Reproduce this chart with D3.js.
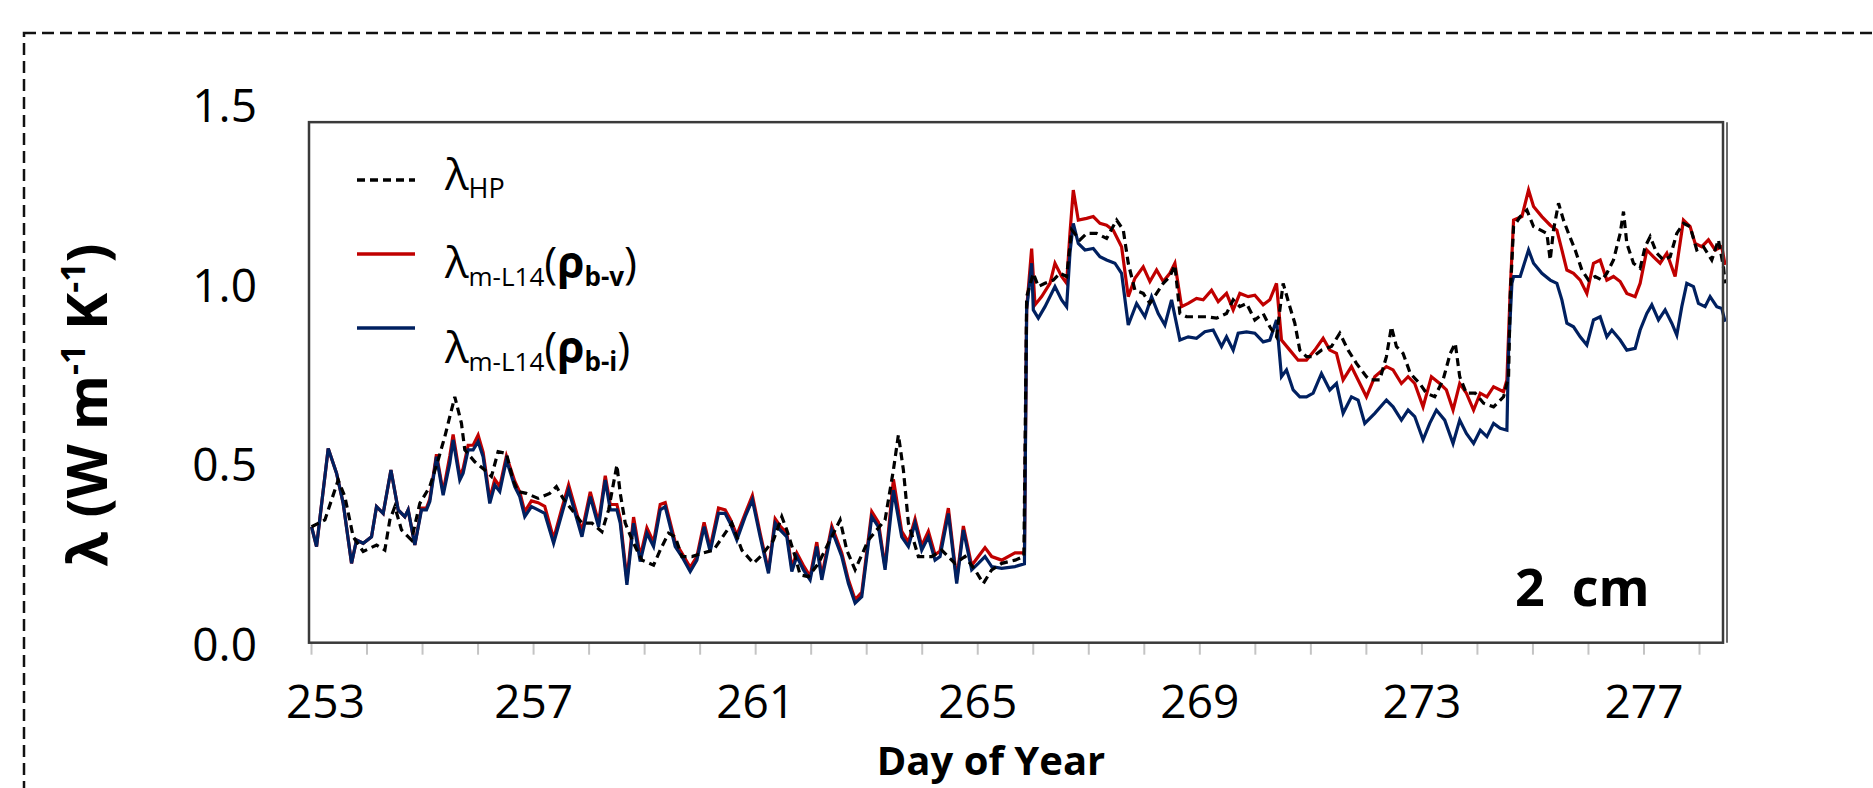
<!DOCTYPE html>
<html>
<head>
<meta charset="utf-8">
<script src="https://cdn.jsdelivr.net/npm/d3@7"></script>
<style>
  body { margin: 0; background: #fff; }
  text { font-family: "Open Sans", sans-serif; fill: #000; }
</style>
</head>
<body>
<svg id="chart" width="1873" height="788"></svg>
<script>
//  Data  //
var dayTicks = d3.range(253, 279);
var dayLabels = [253, 257, 261, 265, 269, 273, 277];
var lambdaTicks = [0, 0.5, 1.0, 1.5];

// lambda_HP  (dashed black)
var hpSeries = [[253.01,0.323],[253.25,0.342],[253.49,0.453],[253.61,0.407],[253.76,0.295],[253.94,0.254],[254.18,0.272],[254.33,0.258],[254.42,0.342],[254.51,0.379],[254.63,0.314],[254.81,0.286],[254.96,0.388],[255.14,0.435],[255.29,0.509],[255.41,0.574],[255.59,0.685],[255.71,0.611],[255.77,0.537],[255.95,0.504],[256.13,0.481],[256.25,0.463],[256.37,0.532],[256.52,0.527],[256.64,0.453],[256.73,0.421],[256.88,0.416],[257.09,0.402],[257.30,0.416],[257.42,0.435],[257.54,0.402],[257.70,0.370],[257.88,0.333],[258.06,0.333],[258.24,0.309],[258.36,0.370],[258.51,0.495],[258.57,0.416],[258.66,0.333],[258.81,0.277],[258.96,0.230],[259.17,0.216],[259.29,0.258],[259.44,0.305],[259.56,0.295],[259.68,0.240],[259.86,0.240],[260.04,0.249],[260.25,0.258],[260.46,0.305],[260.58,0.333],[260.76,0.258],[260.97,0.221],[261.12,0.244],[261.33,0.286],[261.48,0.351],[261.57,0.314],[261.72,0.240],[261.81,0.189],[261.96,0.184],[262.14,0.221],[262.32,0.277],[262.53,0.342],[262.65,0.258],[262.80,0.203],[263.04,0.286],[263.34,0.342],[263.49,0.481],[263.58,0.579],[263.67,0.481],[263.76,0.333],[263.94,0.240],[264.18,0.240],[264.36,0.258],[264.60,0.221],[264.78,0.240],[264.96,0.203],[265.11,0.165],[265.26,0.203],[265.44,0.221],[265.68,0.230],[265.84,0.240],[265.89,0.964],[266.01,1.029],[266.10,0.992],[266.22,1.001],[266.37,1.010],[266.49,1.029],[266.61,1.020],[266.70,1.150],[266.85,1.122],[266.97,1.140],[267.15,1.140],[267.33,1.126],[267.51,1.177],[267.63,1.150],[267.72,1.057],[267.84,0.982],[267.99,0.973],[268.11,0.945],[268.23,0.973],[268.35,1.001],[268.47,1.020],[268.56,1.052],[268.65,0.917],[268.77,0.908],[268.95,0.908],[269.13,0.908],[269.31,0.904],[269.49,0.917],[269.61,0.955],[269.73,0.936],[269.85,0.945],[270.00,0.899],[270.15,0.917],[270.27,0.880],[270.39,0.852],[270.51,1.001],[270.63,0.936],[270.72,0.890],[270.81,0.815],[270.93,0.797],[271.05,0.797],[271.20,0.815],[271.38,0.825],[271.53,0.862],[271.68,0.815],[271.83,0.778],[272.01,0.741],[272.07,0.732],[272.25,0.732],[272.37,0.797],[272.46,0.880],[272.55,0.825],[272.67,0.806],[272.80,0.750],[272.97,0.722],[273.09,0.695],[273.24,0.685],[273.39,0.732],[273.52,0.806],[273.61,0.834],[273.69,0.741],[273.81,0.695],[273.97,0.695],[274.12,0.667],[274.30,0.657],[274.48,0.685],[274.57,0.741],[274.60,0.964],[274.66,1.159],[274.78,1.187],[274.90,1.205],[275.02,1.159],[275.14,1.150],[275.26,1.140],[275.32,1.066],[275.38,1.150],[275.47,1.224],[275.56,1.177],[275.65,1.140],[275.77,1.094],[275.89,1.038],[276.01,1.010],[276.13,1.020],[276.25,1.010],[276.34,1.029],[276.46,1.066],[276.58,1.140],[276.64,1.201],[276.70,1.112],[276.82,1.057],[276.94,1.043],[277.03,1.103],[277.12,1.131],[277.24,1.085],[277.36,1.066],[277.48,1.075],[277.60,1.140],[277.72,1.168],[277.84,1.159],[277.96,1.094],[278.08,1.103],[278.23,1.066],[278.35,1.122],[278.44,1.047],[278.47,1.001]];

// lambda_m-L14(rho_b-v)  (red)
var bvSeries = [[253.01,0.323],[253.10,0.268],[253.31,0.541],[253.46,0.472],[253.58,0.388],[253.73,0.221],[253.82,0.286],[253.94,0.277],[254.09,0.295],[254.18,0.379],[254.30,0.360],[254.44,0.481],[254.57,0.370],[254.69,0.351],[254.75,0.370],[254.87,0.272],[254.99,0.375],[255.08,0.375],[255.14,0.400],[255.26,0.525],[255.38,0.420],[255.50,0.520],[255.56,0.580],[255.68,0.465],[255.74,0.485],[255.83,0.550],[255.92,0.550],[256.01,0.578],[256.10,0.530],[256.22,0.400],[256.31,0.455],[256.40,0.435],[256.52,0.520],[256.67,0.450],[256.76,0.420],[256.85,0.365],[256.97,0.395],[257.09,0.390],[257.21,0.380],[257.37,0.290],[257.52,0.375],[257.64,0.440],[257.76,0.375],[257.88,0.310],[258.03,0.420],[258.18,0.335],[258.30,0.465],[258.39,0.385],[258.51,0.385],[258.57,0.345],[258.69,0.175],[258.81,0.350],[258.93,0.240],[259.05,0.320],[259.17,0.280],[259.29,0.385],[259.38,0.390],[259.56,0.280],[259.68,0.250],[259.83,0.210],[259.95,0.240],[260.08,0.335],[260.19,0.265],[260.34,0.375],[260.46,0.370],[260.55,0.345],[260.67,0.300],[260.82,0.360],[260.95,0.410],[261.09,0.305],[261.24,0.200],[261.36,0.345],[261.45,0.325],[261.57,0.305],[261.66,0.210],[261.75,0.250],[261.87,0.215],[261.99,0.185],[262.11,0.280],[262.20,0.185],[262.38,0.325],[262.56,0.250],[262.68,0.175],[262.80,0.120],[262.92,0.140],[263.10,0.365],[263.22,0.335],[263.34,0.210],[263.49,0.455],[263.64,0.310],[263.76,0.280],[263.88,0.345],[264.00,0.270],[264.12,0.310],[264.24,0.245],[264.33,0.255],[264.48,0.375],[264.63,0.175],[264.75,0.325],[264.90,0.215],[265.02,0.240],[265.14,0.265],[265.26,0.240],[265.44,0.230],[265.68,0.250],[265.85,0.250],[265.89,0.930],[265.98,1.098],[266.04,0.941],[266.16,0.964],[266.31,1.001],[266.40,1.057],[266.52,1.020],[266.61,1.001],[266.67,1.140],[266.73,1.261],[266.82,1.177],[266.97,1.182],[267.09,1.187],[267.21,1.168],[267.33,1.163],[267.45,1.149],[267.60,1.103],[267.72,0.964],[267.84,1.015],[267.99,1.047],[268.11,1.006],[268.23,1.038],[268.35,1.006],[268.47,1.029],[268.56,1.057],[268.68,0.936],[268.80,0.945],[268.95,0.959],[269.07,0.955],[269.22,0.982],[269.34,0.950],[269.49,0.973],[269.61,0.927],[269.73,0.973],[269.88,0.964],[270.00,0.968],[270.15,0.941],[270.27,0.955],[270.39,1.001],[270.48,0.843],[270.63,0.815],[270.78,0.787],[270.93,0.787],[271.08,0.815],[271.23,0.848],[271.35,0.815],[271.47,0.806],[271.59,0.732],[271.74,0.769],[271.86,0.732],[272.01,0.685],[272.16,0.741],[272.37,0.769],[272.49,0.760],[272.64,0.722],[272.76,0.741],[272.88,0.722],[273.03,0.657],[273.18,0.741],[273.33,0.722],[273.45,0.704],[273.57,0.648],[273.69,0.722],[273.81,0.695],[273.94,0.648],[274.06,0.695],[274.18,0.685],[274.30,0.713],[274.48,0.699],[274.54,0.732],[274.60,0.982],[274.66,1.177],[274.81,1.187],[274.93,1.261],[275.02,1.215],[275.17,1.187],[275.32,1.163],[275.44,1.149],[275.53,1.094],[275.62,1.038],[275.74,1.029],[275.86,1.010],[275.98,0.973],[276.10,1.057],[276.22,1.066],[276.34,1.010],[276.46,1.020],[276.58,1.006],[276.70,0.973],[276.85,0.964],[276.94,1.001],[277.06,1.094],[277.18,1.075],[277.30,1.057],[277.42,1.085],[277.57,1.020],[277.72,1.177],[277.84,1.159],[277.93,1.112],[278.05,1.103],[278.17,1.122],[278.29,1.094],[278.41,1.103],[278.47,1.052]];

// lambda_m-L14(rho_b-i)  (navy)
var biSeries = [[253.01,0.323],[253.10,0.268],[253.31,0.541],[253.46,0.472],[253.58,0.388],[253.73,0.221],[253.82,0.286],[253.94,0.277],[254.09,0.295],[254.18,0.379],[254.30,0.360],[254.44,0.481],[254.57,0.370],[254.69,0.351],[254.75,0.370],[254.87,0.272],[254.99,0.370],[255.08,0.370],[255.14,0.393],[255.26,0.518],[255.38,0.411],[255.50,0.500],[255.56,0.565],[255.68,0.453],[255.74,0.472],[255.83,0.537],[255.92,0.537],[256.01,0.560],[256.10,0.518],[256.22,0.388],[256.31,0.439],[256.40,0.421],[256.52,0.509],[256.67,0.435],[256.76,0.407],[256.85,0.351],[256.97,0.379],[257.09,0.370],[257.21,0.360],[257.37,0.277],[257.52,0.360],[257.64,0.425],[257.76,0.360],[257.88,0.295],[258.03,0.407],[258.18,0.323],[258.30,0.453],[258.39,0.370],[258.51,0.370],[258.57,0.333],[258.69,0.161],[258.81,0.333],[258.93,0.226],[259.05,0.305],[259.17,0.268],[259.29,0.370],[259.38,0.379],[259.56,0.268],[259.68,0.240],[259.83,0.198],[259.95,0.230],[260.08,0.323],[260.19,0.254],[260.34,0.360],[260.46,0.360],[260.55,0.333],[260.67,0.286],[260.82,0.351],[260.95,0.398],[261.09,0.295],[261.24,0.193],[261.36,0.333],[261.45,0.314],[261.57,0.295],[261.66,0.198],[261.75,0.240],[261.87,0.203],[261.99,0.175],[262.11,0.268],[262.20,0.175],[262.38,0.314],[262.56,0.240],[262.68,0.165],[262.80,0.110],[262.92,0.128],[263.10,0.351],[263.22,0.323],[263.34,0.203],[263.49,0.425],[263.64,0.295],[263.76,0.268],[263.88,0.333],[264.00,0.258],[264.12,0.295],[264.24,0.230],[264.33,0.240],[264.48,0.360],[264.63,0.165],[264.75,0.314],[264.90,0.203],[265.02,0.221],[265.14,0.240],[265.26,0.212],[265.44,0.207],[265.68,0.212],[265.85,0.220],[265.89,0.927],[265.98,1.057],[266.01,0.927],[266.10,0.904],[266.22,0.936],[266.40,0.992],[266.52,0.955],[266.61,0.936],[266.67,1.085],[266.73,1.168],[266.82,1.112],[266.94,1.094],[267.09,1.098],[267.21,1.075],[267.33,1.066],[267.48,1.057],[267.60,1.029],[267.72,0.885],[267.87,0.945],[268.02,0.908],[268.14,0.964],[268.26,0.917],[268.38,0.885],[268.50,0.955],[268.65,0.843],[268.80,0.852],[268.95,0.848],[269.10,0.866],[269.25,0.871],[269.40,0.825],[269.49,0.852],[269.61,0.815],[269.70,0.862],[269.85,0.866],[270.00,0.862],[270.15,0.838],[270.27,0.843],[270.39,0.899],[270.48,0.741],[270.57,0.760],[270.69,0.704],[270.81,0.685],[270.93,0.685],[271.05,0.695],[271.20,0.750],[271.35,0.704],[271.47,0.722],[271.59,0.639],[271.74,0.685],[271.86,0.676],[271.98,0.611],[272.16,0.639],[272.37,0.676],[272.49,0.657],[272.64,0.620],[272.76,0.648],[272.88,0.630],[273.03,0.565],[273.15,0.611],[273.27,0.648],[273.42,0.620],[273.57,0.555],[273.69,0.620],[273.81,0.583],[273.94,0.555],[274.06,0.592],[274.18,0.574],[274.30,0.611],[274.42,0.597],[274.54,0.592],[274.57,0.815],[274.63,1.001],[274.66,1.020],[274.78,1.020],[274.93,1.094],[275.02,1.057],[275.17,1.029],[275.32,1.010],[275.44,1.001],[275.53,0.955],[275.62,0.890],[275.74,0.880],[275.86,0.852],[275.98,0.829],[276.10,0.899],[276.22,0.908],[276.34,0.852],[276.43,0.871],[276.58,0.843],[276.70,0.815],[276.85,0.820],[276.94,0.871],[277.06,0.917],[277.15,0.941],[277.27,0.899],[277.39,0.927],[277.51,0.890],[277.60,0.857],[277.69,0.936],[277.78,1.001],[277.90,0.992],[277.99,0.945],[278.11,0.936],[278.20,0.964],[278.32,0.936],[278.41,0.931],[278.47,0.894]];

var svg = d3.select("#chart");

//  Scales  //
var x = d3.scaleLinear().domain([253, 278]).range([311, 1699]);
var y = d3.scaleLinear().domain([0, 1.5]).range([642.7, 104.2]);
var boxLeft = 309, boxRight = 1723, boxTop = y(1.45), boxBottom = y(0);

// outer dashed frame
svg.append("rect").attr("x", 24).attr("y", 33).attr("width", 1900).attr("height", 820)
  .attr("fill", "none").attr("stroke", "#111").attr("stroke-width", 2.5).attr("stroke-dasharray", "12,6");

svg.append("clipPath").attr("id", "plotclip").append("rect")
  .attr("x", boxLeft).attr("y", boxTop).attr("width", boxRight - boxLeft + 3).attr("height", boxBottom - boxTop);

//  Axis  //
var axisX = d3.axisBottom(x).tickValues(dayTicks).tickSize(12).tickPadding(31)
  .tickFormat(function(d){ return dayLabels.indexOf(d) >= 0 ? d : ""; });
var gx = svg.append("g").attr("transform", "translate(0," + boxBottom + ")").call(axisX);
gx.select(".domain").remove();
gx.selectAll(".tick line").attr("stroke", "#c4c4c4").attr("stroke-width", 2);
gx.selectAll(".tick text").attr("font-size", 46).attr("font-family", "Open Sans")
  .attr("dx", function(d){ return d == 253 ? 14 : 0; });

var axisY = d3.axisLeft(y).tickValues(lambdaTicks).tickSize(0).tickPadding(52).tickFormat(d3.format(".1f"));
var gy = svg.append("g").attr("transform", "translate(" + boxLeft + ",0)").call(axisY);
gy.select(".domain").remove();
gy.selectAll(".tick text").attr("font-size", 46).attr("font-family", "Open Sans").attr("dy", "0.38em");

//  Lines  //
var lines = d3.line().x(function(d){ return x(d[0]); }).y(function(d){ return y(d[1]); });
var plot = svg.append("g").attr("clip-path", "url(#plotclip)");
plot.append("path").datum(bvSeries).attr("d", lines).attr("fill", "none").attr("stroke", "#c00000").attr("stroke-width", 3.2);
plot.append("path").datum(biSeries).attr("d", lines).attr("fill", "none").attr("stroke", "#002060").attr("stroke-width", 3.2);
plot.append("path").datum(hpSeries).attr("d", lines).attr("fill", "none").attr("stroke", "#000").attr("stroke-width", 3.2).attr("stroke-dasharray", "8,5");

// plot box
svg.append("rect").attr("x", boxLeft).attr("y", boxTop).attr("width", boxRight - boxLeft).attr("height", boxBottom - boxTop)
  .attr("fill", "none").attr("stroke", "#3a3a3a").attr("stroke-width", 2.5);
svg.append("line").attr("x1", boxRight + 4).attr("x2", boxRight + 4).attr("y1", boxTop).attr("y2", boxBottom)
  .attr("stroke", "#6a6a6a").attr("stroke-width", 2);

//  Legend  //
var legendRows = [
  {color: "#000", dash: "8,5", sampleY: 180, textY: 190},
  {color: "#c00000", dash: null, sampleY: 254, textY: 278},
  {color: "#002060", dash: null, sampleY: 328, textY: 363}
];
legendRows.forEach(function(r){
  svg.append("line").attr("x1", 357).attr("x2", 415).attr("y1", r.sampleY).attr("y2", r.sampleY)
    .attr("stroke", r.color).attr("stroke-width", 3.5).attr("stroke-dasharray", r.dash);
});
var t1 = svg.append("text").attr("x", 445).attr("y", legendRows[0].textY);
t1.append("tspan").attr("font-size", 44).text("λ");
t1.append("tspan").attr("font-size", 27).attr("dy", 8).text("HP");

function modelLabel(row, sub) {
  var t = svg.append("text").attr("x", 445).attr("y", row.textY);
  t.append("tspan").attr("font-size", 44).text("λ");
  t.append("tspan").attr("font-size", 26).attr("dy", 8).text("m-L14");
  t.append("tspan").attr("font-size", 44).attr("dy", -8).text("(");
  t.append("tspan").attr("font-size", 44).attr("font-weight", "bold").text("ρ");
  t.append("tspan").attr("font-size", 26).attr("font-weight", "bold").attr("dy", 8).text(sub);
  t.append("tspan").attr("font-size", 44).attr("dy", -8).text(")");
}
modelLabel(legendRows[1], "b-v");
modelLabel(legendRows[2], "b-i");

// depth tag
svg.append("text").attr("x", 1515).attr("y", 606).attr("font-size", 52).attr("font-weight", "bold")
  .style("white-space", "pre").text("2  cm");

//  Titles  //
svg.append("text").attr("x", (boxLeft + boxRight) / 2 - 25).attr("y", 775).attr("text-anchor", "middle")
  .attr("font-size", 40).attr("font-weight", "bold").text("Day of Year");

var yt = svg.append("text").attr("transform", "translate(107,405) rotate(-90)").attr("text-anchor", "middle")
  .attr("font-size", 56).attr("font-weight", "bold");
yt.append("tspan").text("λ (W m");
yt.append("tspan").attr("font-size", 34).attr("dy", -22).text("-1");
yt.append("tspan").attr("dy", 22).text(" K");
yt.append("tspan").attr("font-size", 34).attr("dy", -22).text("-1");
yt.append("tspan").attr("dy", 22).text(")");
</script>
</body>
</html>
